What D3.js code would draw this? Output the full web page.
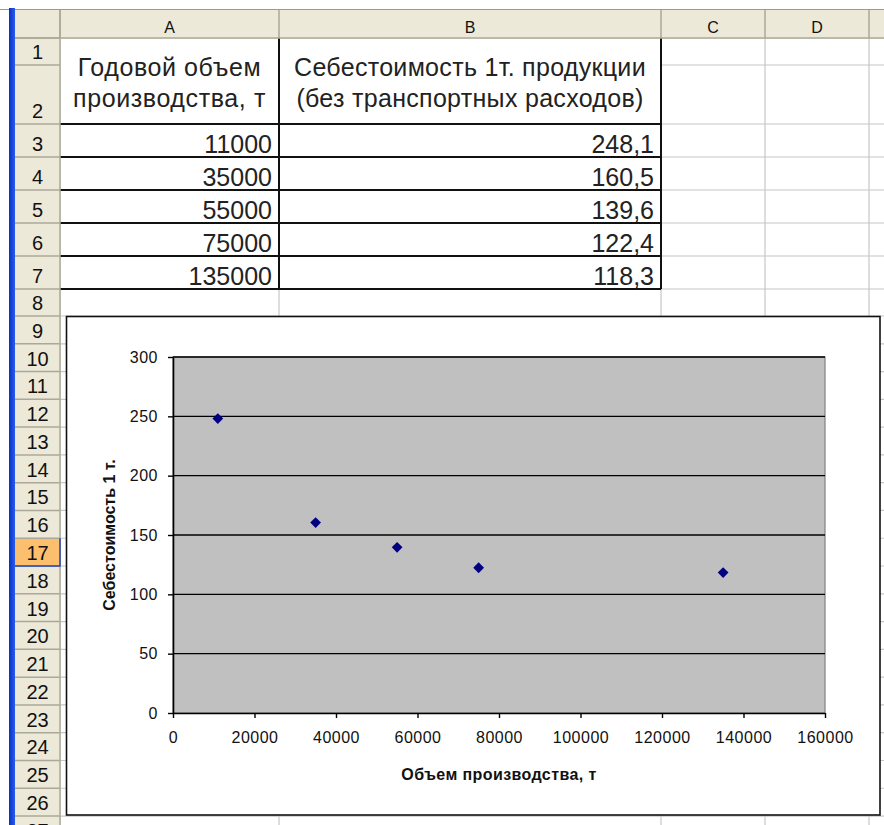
<!DOCTYPE html>
<html>
<head>
<meta charset="utf-8">
<script src="https://cdn.jsdelivr.net/npm/d3@7"></script>
<style>
  body { margin: 0; background: #fff; }
  svg { display: block; font-family: "Liberation Sans", Arial, sans-serif; }
</style>
</head>
<body>
<div id="sheet"></div>
<script>
// *** data (cells A3:B7) *** //
const volumes = [11000, 35000, 55000, 75000, 135000];
const costs = [248.1, 160.5, 139.6, 122.4, 118.3];
const headerA = ['Годовой объем', 'производства, т'];
const headerB = ['Себестоимость 1т. продукции', '(без транспортных расходов)'];
const colLetters = ['A', 'B', 'C', 'D'];
const xTicks = [0, 20000, 40000, 60000, 80000, 100000, 120000, 140000, 160000];
const yTicks = [0, 50, 100, 150, 200, 250, 300];
const xTitle = 'Объем производства, т';
const yTitle = 'Себестоимость 1 т.';

const width = 884;
const height = 825;

// sheet geometry
const colEdges = [60, 279, 661, 765, 869, 973];
const rowEdges = [38, 65, 124, 157, 190, 223, 256, 289, 316];
for (let k = 1; k <= 19; k++) rowEdges.push(316 + k * 27.78);
const selectedRow = 17;

const svg = d3.select('#sheet')
  .append('svg')
  .attr('width', width)
  .attr('height', height);

const defs = svg.append('defs');
const frameGrad = defs.append('linearGradient').attr('id', 'frame').attr('x1', 0).attr('x2', 1);
frameGrad.append('stop').attr('offset', 0).attr('stop-color', '#0831c4');
frameGrad.append('stop').attr('offset', 1).attr('stop-color', '#2a5cf0');

svg.append('rect').attr('width', width).attr('height', height).attr('fill', '#fff');

// *** cell gridlines *** //
const grid = svg.append('g').attr('stroke', '#c6c6c6').attr('stroke-width', 1.2);
rowEdges.forEach((y, i) => {
  grid.append('line')
    .attr('x1', i === 1 ? colEdges[2] : colEdges[0]).attr('x2', width)
    .attr('y1', y).attr('y2', y);
});
colEdges.forEach(x => {
  grid.append('line').attr('x1', x).attr('x2', x).attr('y1', 38).attr('y2', height);
});

// *** table borders *** //
const borders = svg.append('g').attr('stroke', '#111').attr('stroke-width', 2);
rowEdges.slice(2, 8).forEach(y => {
  borders.append('line').attr('x1', colEdges[0]).attr('x2', colEdges[2]).attr('y1', y).attr('y2', y);
});
[colEdges[1], colEdges[2]].forEach(x => {
  borders.append('line').attr('x1', x).attr('x2', x).attr('y1', 38).attr('y2', rowEdges[7]);
});

// *** table texts *** //
const cellFont = 25;
const cells = svg.append('g').attr('font-size', cellFont).attr('fill', '#222');
headerA.forEach((t, i) => {
  cells.append('text')
    .attr('x', (colEdges[0] + colEdges[1]) / 2).attr('y', 76 + i * 31)
    .attr('text-anchor', 'middle').attr('letter-spacing', 0.6).text(t);
});
headerB.forEach((t, i) => {
  cells.append('text')
    .attr('x', (colEdges[1] + colEdges[2]) / 2).attr('y', 76 + i * 31)
    .attr('text-anchor', 'middle').attr('letter-spacing', 0.3).text(t);
});
const fmtComma = d => d3.format('.1f')(d).replace('.', ',');
volumes.forEach((v, i) => {
  cells.append('text')
    .attr('x', colEdges[1] - 7).attr('y', rowEdges[i + 3] - 4)
    .attr('text-anchor', 'end').text(v);
  cells.append('text')
    .attr('x', colEdges[2] - 7).attr('y', rowEdges[i + 3] - 4)
    .attr('text-anchor', 'end').text(fmtComma(costs[i]));
});

// *** headers *** //
const hdr = svg.append('g');
hdr.append('rect').attr('x', 15).attr('y', 10).attr('width', width - 15).attr('height', 28).attr('fill', '#ece9d8');
hdr.append('rect').attr('x', 15).attr('y', 38).attr('width', 45).attr('height', height - 38).attr('fill', '#ece9d8');
hdr.append('rect')
  .attr('x', 15).attr('y', rowEdges[selectedRow - 1])
  .attr('width', 45).attr('height', rowEdges[selectedRow] - rowEdges[selectedRow - 1])
  .attr('fill', '#fbbf6e');
hdr.append('line').attr('x1', 0).attr('x2', width).attr('y1', 9.5).attr('y2', 9.5).attr('stroke', '#9a9a9a');
hdr.selectAll('line.cs')
  .data(colEdges)
  .join('line')
  .attr('x1', d => d).attr('x2', d => d).attr('y1', 10).attr('y2', 38)
  .attr('stroke', '#aca899').attr('stroke-width', 1.5);
hdr.selectAll('line.rs')
  .data(rowEdges)
  .join('line')
  .attr('x1', 15).attr('x2', 60).attr('y1', d => d).attr('y2', d => d)
  .attr('stroke', '#aca899').attr('stroke-width', 1.5);
hdr.append('line').attr('x1', 15).attr('x2', width).attr('y1', 38).attr('y2', 38).attr('stroke', '#aca899').attr('stroke-width', 1.5);
hdr.append('line').attr('x1', 60).attr('x2', 60).attr('y1', 10).attr('y2', height).attr('stroke', '#aca899').attr('stroke-width', 1.5);
// selected row marker
hdr.append('path')
  .attr('d', `M15,${rowEdges[selectedRow]} H60 V${rowEdges[selectedRow - 1]}`)
  .attr('fill', 'none').attr('stroke', '#2446b8').attr('stroke-width', 1.5);

hdr.selectAll('text.col')
  .data(colLetters)
  .join('text')
  .attr('x', (d, i) => (colEdges[i] + colEdges[i + 1]) / 2).attr('y', 33)
  .attr('text-anchor', 'middle').attr('font-size', 16).attr('fill', '#111')
  .text(d => d);
hdr.selectAll('text.row')
  .data(rowEdges.slice(0, -1))
  .join('text')
  .attr('x', 37.5).attr('y', (d, i) => rowEdges[i + 1] - 6)
  .attr('text-anchor', 'middle').attr('font-size', 20).attr('fill', '#111')
  .text((d, i) => i + 1);

svg.append('rect').attr('x', 9).attr('y', 8).attr('width', 6).attr('height', height - 8).attr('fill', 'url(#frame)');

// *** chart object *** //
const chart = svg.append('g');
chart.append('rect')
  .attr('x', 66.5).attr('y', 316.5).attr('width', 813.5).attr('height', 498.5)
  .attr('fill', '#fff').attr('stroke', '#111').attr('stroke-width', 1.6);

const plot = { left: 173, right: 825, top: 357, bottom: 713 };
const x = d3.scaleLinear().domain([0, 160000]).range([plot.left, plot.right]);
const y = d3.scaleLinear().domain([0, 300]).range([plot.bottom, plot.top]);

chart.append('rect')
  .attr('x', plot.left).attr('y', plot.top)
  .attr('width', plot.right - plot.left).attr('height', plot.bottom - plot.top)
  .attr('fill', '#c0c0c0').attr('stroke', '#808080').attr('stroke-width', 1.2);

chart.append('g')
  .selectAll('line')
  .data(yTicks.filter(d => d > 0))
  .join('line')
  .attr('x1', plot.left).attr('x2', plot.right)
  .attr('y1', d => y(d)).attr('y2', d => y(d))
  .attr('stroke', '#000').attr('stroke-width', 1.4);

const xAxis = chart.append('g')
  .attr('transform', `translate(0,${plot.bottom})`)
  .call(d3.axisBottom(x).tickValues(xTicks).tickSize(5).tickSizeOuter(0).tickPadding(14).tickFormat(d3.format('d')));
const yAxis = chart.append('g')
  .attr('transform', `translate(${plot.left},0)`)
  .call(d3.axisLeft(y).tickValues(yTicks).tickSize(5).tickSizeOuter(0).tickPadding(10).tickFormat(d3.format('d')));

[xAxis, yAxis].forEach(ax => {
  ax.select('.domain').attr('stroke', '#000').attr('stroke-width', 1.6);
  ax.selectAll('.tick line').attr('stroke', '#000').attr('stroke-width', 1.4);
  ax.selectAll('.tick text')
    .attr('font-family', '"Liberation Sans", Arial, sans-serif')
    .attr('font-size', 16).attr('letter-spacing', 0.5).attr('fill', '#111');
});

// markers
chart.append('g')
  .selectAll('path')
  .data(volumes)
  .join('path')
  .attr('d', d3.symbol(d3.symbolSquare, 58))
  .attr('transform', (d, i) => `translate(${x(d)},${y(costs[i])}) rotate(45)`)
  .attr('fill', '#000080');

chart.append('text')
  .attr('x', (plot.left + plot.right) / 2).attr('y', 780)
  .attr('text-anchor', 'middle').attr('font-size', 16).attr('font-weight', 'bold')
  .attr('letter-spacing', 0.4).attr('fill', '#111')
  .text(xTitle);
chart.append('text')
  .attr('transform', `translate(115,${(plot.top + plot.bottom) / 2}) rotate(-90)`)
  .attr('text-anchor', 'middle').attr('font-size', 16).attr('font-weight', 'bold')
  .attr('fill', '#111')
  .text(yTitle);
</script>
</body>
</html>
